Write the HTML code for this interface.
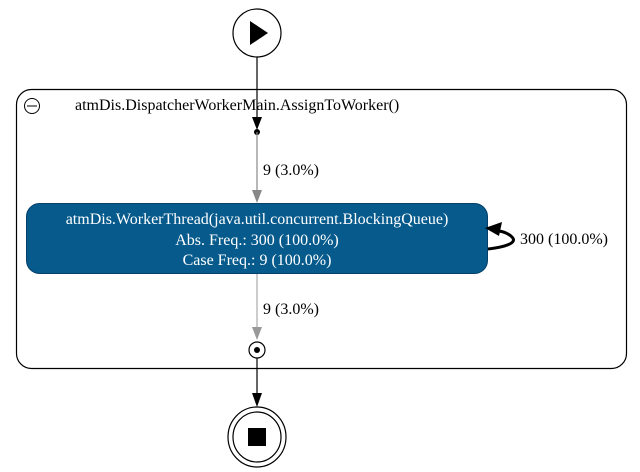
<!DOCTYPE html>
<html><head><meta charset="utf-8"><style>
html,body{margin:0;padding:0;background:#fff;width:640px;height:472px;overflow:hidden}
svg{display:block}
text{font-family:"Liberation Serif",serif;font-size:16px}
</style></head><body>
<svg width="640" height="472" viewBox="0 0 640 472" xmlns="http://www.w3.org/2000/svg">
<rect x="16.5" y="89.5" width="610" height="279" rx="15" fill="none" stroke="#000" stroke-width="1.2"/>
<circle cx="32" cy="106" r="7.5" fill="none" stroke="#000"/>
<line x1="27" y1="106" x2="37" y2="106" stroke="#000"/>
<text x="75" y="110" font-family="Liberation Serif, serif">atmDis.DispatcherWorkerMain.AssignToWorker()</text>
<circle cx="257" cy="33" r="24" fill="#fff" stroke="#000" stroke-width="1.2"/>
<polygon points="250,21 250,45 268,33" fill="#000"/>
<line x1="257" y1="57" x2="257" y2="120" stroke="#000" stroke-width="1.2"/>
<polygon points="252,117 262,117 257,130" fill="#000"/>
<circle cx="257" cy="132" r="3" fill="#000"/>
<line x1="257" y1="132" x2="257" y2="192" stroke="#888" stroke-width="1.2"/>
<polygon points="252,190 262,190 257,203" fill="#888"/>
<text x="263" y="175" font-family="Liberation Serif, serif">9 (3.0%)</text>
<rect x="26.5" y="203.5" width="461" height="70" rx="13" fill="#065a8c" stroke="#04406a"/>
<text x="257" y="224" fill="#fff" text-anchor="middle" font-family="Liberation Serif, serif">atmDis.WorkerThread(java.util.concurrent.BlockingQueue)</text>
<text x="257" y="245" fill="#fff" text-anchor="middle" font-family="Liberation Serif, serif">Abs. Freq.: 300 (100.0%)</text>
<text x="257" y="265" fill="#fff" text-anchor="middle" font-family="Liberation Serif, serif">Case Freq.: 9 (100.0%)</text>
<path d="M488,249 C505,247 518,243 512,237 C509,234 505,232 499,231" fill="none" stroke="#000" stroke-width="3"/>
<polygon points="485,228 502,222 499,236" fill="#000"/>
<text x="520" y="244" font-family="Liberation Serif, serif">300 (100.0%)</text>
<line x1="257" y1="274" x2="257" y2="330" stroke="#aaa" stroke-width="1.2"/>
<polygon points="252,327 262,327 257,340" fill="#999"/>
<text x="263" y="314" font-family="Liberation Serif, serif">9 (3.0%)</text>
<circle cx="257" cy="350" r="8" fill="#fff" stroke="#000" stroke-width="1.2"/>
<circle cx="257" cy="350" r="3" fill="#000"/>
<line x1="257" y1="358" x2="257" y2="396" stroke="#000" stroke-width="1.2"/>
<polygon points="252,393 262,393 257,407" fill="#000"/>
<ellipse cx="257" cy="437" rx="29" ry="30" fill="#fff" stroke="#000" stroke-width="1.2"/>
<ellipse cx="257" cy="437" rx="24" ry="25" fill="none" stroke="#000" stroke-width="1.2"/>
<rect x="248" y="428" width="18" height="18" fill="#000"/>
</svg>
</body></html>
